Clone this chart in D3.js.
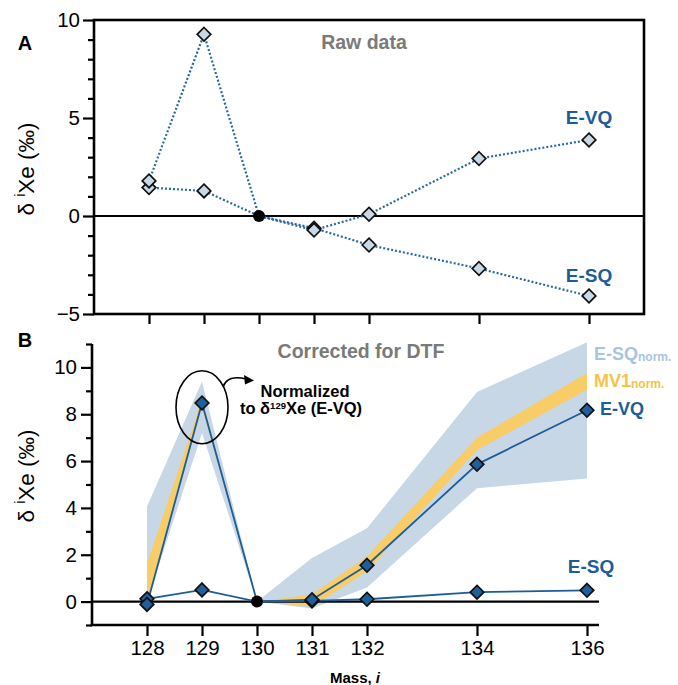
<!DOCTYPE html>
<html><head><meta charset="utf-8">
<script src="https://cdn.jsdelivr.net/npm/d3@7"></script>
<style>body{margin:0;background:#fff}svg{display:block;font-family:"Liberation Sans",Arial,Helvetica,sans-serif}</style>
</head><body><svg id="c" width="678" height="685"></svg>
<script>
// ---------- data ----------
const masses = [128, 129, 130, 131, 132, 134, 136];
const rawEVQ = [1.79, 9.27, 0, -0.72, 0.09, 2.93, 3.88];
const rawESQ = [1.45, 1.28, 0, -0.62, -1.48, -2.68, -4.08];
const corEVQ = [-0.12, 8.48, 0, 0.08, 1.55, 5.86, 8.17];
const corESQ = [0.12, 0.5, 0, 0.03, 0.1, 0.4, 0.48];
const esqNormLow = [0.0, 7.2, 0, -0.3, 0.6, 4.84, 5.26];
const esqNormHigh = [4.06, 9.4, 0, 1.86, 3.13, 8.95, 11.08];
const mv1NormLow = [0.0, 8.3, 0, -0.22, 1.29, 6.47, 9.05];
const mv1NormHigh = [1.6, 8.65, 0, 0.3, 1.93, 7.0, 9.76];
const yTicksA = [-5, 0, 5, 10];
const yMinorA = [-4, -3, -2, -1, 1, 2, 3, 4, 6, 7, 8, 9];
const yTicksB = [0, 2, 4, 6, 8, 10];
const yMinorB = [-1, 1, 3, 5, 7, 9, 11];

const C = {
  dark: "#1c5d98", diamondA: "#c9d8e7", band: "#c7d7e6", yellow: "#f8cc66",
  bandText: "#a9c5de", yellowText: "#f4c449", gray: "#7a7a7a"
};
const TICK_FS = 20.5;

const svg = d3.select("#c");
const diamondPath = "M0,-6.8L6.8,0L0,6.8L-6.8,0Z";

// ---------- Panel A ----------
const xA = d3.scaleLinear().domain([127, 137]).range([94, 644]);
const yA = d3.scaleLinear().domain([-5, 10]).range([314, 20]);
const gA = svg.append("g");

gA.append("line").attr("x1", xA(127)).attr("x2", xA(137)).attr("y1", yA(0)).attr("y2", yA(0))
  .attr("stroke", "#000").attr("stroke-width", 2);

const axA = gA.append("g").attr("transform", `translate(${xA(127)},0)`)
  .call(d3.axisLeft(yA).tickValues(yTicksA).tickSize(11).tickPadding(3).tickFormat(d => d < 0 ? "\u2212" + Math.abs(d) : d));
const axAm = gA.append("g").attr("transform", `translate(${xA(127)},0)`)
  .call(d3.axisLeft(yA).tickValues(yMinorA).tickSize(6).tickFormat(""));
const axAb = gA.append("g").attr("transform", `translate(0,${yA(-5)})`)
  .call(d3.axisBottom(xA).tickValues(masses).tickSize(10).tickFormat(""));
[axA, axAm, axAb].forEach(a => {
  a.select(".domain").remove();
  a.selectAll("line").attr("stroke", "#000").attr("stroke-width", 2.2);
  a.selectAll("text").attr("font-size", TICK_FS).attr("fill", "#000").attr("font-family", "Liberation Sans, Arial, sans-serif");
});
gA.append("rect").attr("x", xA(127)).attr("y", yA(10)).attr("width", xA(137) - xA(127)).attr("height", yA(-5) - yA(10))
  .attr("fill", "none").attr("stroke", "#000").attr("stroke-width", 2.6);

const lineA = d3.line().x((d, i) => xA(masses[i])).y(d => yA(d));
[rawESQ, rawEVQ].forEach(s => {
  gA.append("path").attr("d", lineA(s)).attr("fill", "none").attr("stroke", "#2a6aa3")
    .attr("stroke-width", 2.2).attr("stroke-dasharray", "2,2");
});
[rawESQ, rawEVQ].forEach(s => {
  gA.selectAll(null).data(s.map((v, i) => [masses[i], v]).filter(d => d[0] !== 130)).join("path")
    .attr("d", diamondPath).attr("transform", d => `translate(${xA(d[0])},${yA(d[1])})`)
    .attr("fill", C.diamondA).attr("stroke", "#111").attr("stroke-width", 1.7);
});
gA.append("circle").attr("cx", xA(130)).attr("cy", yA(0)).attr("r", 6).attr("fill", "#000");

gA.append("text").attr("x", 364).attr("y", 49).attr("text-anchor", "middle").attr("font-weight", "bold")
  .attr("font-size", 19.5).attr("fill", C.gray).text("Raw data");
gA.append("text").attr("x", xA(136)).attr("y", 124).attr("text-anchor", "middle").attr("font-weight", "bold")
  .attr("font-size", 19).attr("fill", C.dark).text("E-VQ");
gA.append("text").attr("x", xA(136)).attr("y", 282).attr("text-anchor", "middle").attr("font-weight", "bold")
  .attr("font-size", 19).attr("fill", C.dark).text("E-SQ");
gA.append("text").attr("x", 25).attr("y", 50).attr("text-anchor", "middle").attr("font-weight", "bold")
  .attr("font-size", 20).text("A");

function yLabel(g, x, y) {
  const t = g.append("text").attr("transform", `translate(${x},${y}) rotate(-90)`).attr("text-anchor", "middle")
    .attr("font-size", 22.5).attr("fill", "#000");
  t.append("tspan").text("δ ");
  t.append("tspan").attr("font-size", 14).attr("dy", -9).text("i");
  t.append("tspan").attr("dy", 9).text("Xe (‰)");
}
yLabel(gA, 34, 169);

// ---------- Panel B ----------
const xB = d3.scaleLinear().domain([127, 137]).range([92, 642]);
const yB = d3.scaleLinear().domain([-1, 11]).range([625, 344]);
const gB = svg.append("g");

const band = (lo, hi) => d3.area().x((d, i) => xB(masses[i])).y0((d, i) => yB(lo[i])).y1((d, i) => yB(hi[i]))(masses);
gB.append("path").attr("d", band(esqNormLow, esqNormHigh)).attr("fill", C.band);
gB.append("path").attr("d", band(mv1NormLow, mv1NormHigh)).attr("fill", C.yellow);

gB.append("line").attr("x1", xB(127)).attr("x2", 599).attr("y1", yB(0)).attr("y2", yB(0))
  .attr("stroke", "#000").attr("stroke-width", 2.2);

const lineB = d3.line().x((d, i) => xB(masses[i])).y(d => yB(d));
[corESQ, corEVQ].forEach(s => {
  gB.append("path").attr("d", lineB(s)).attr("fill", "none").attr("stroke", C.dark).attr("stroke-width", 1.8);
});
[corESQ, corEVQ].forEach(s => {
  gB.selectAll(null).data(s.map((v, i) => [masses[i], v]).filter(d => d[0] !== 130)).join("path")
    .attr("d", diamondPath).attr("transform", d => `translate(${xB(d[0])},${yB(d[1])})`)
    .attr("fill", "#1f5f9c").attr("stroke", "#111").attr("stroke-width", 1.7);
});
gB.append("circle").attr("cx", xB(130)).attr("cy", yB(0)).attr("r", 6).attr("fill", "#000");

const axB = gB.append("g").attr("transform", `translate(${xB(127)},0)`)
  .call(d3.axisLeft(yB).tickValues(yTicksB).tickSize(11).tickPadding(4));
const axBm = gB.append("g").attr("transform", `translate(${xB(127)},0)`)
  .call(d3.axisLeft(yB).tickValues(yMinorB).tickSize(6).tickFormat(""));
const axBb = gB.append("g").attr("transform", `translate(0,${yB(-1)})`)
  .call(d3.axisBottom(xB).tickValues(masses).tickSize(11).tickPadding(4).tickFormat(d3.format("d")));
[axB, axBm, axBb].forEach(a => {
  a.select(".domain").remove();
  a.selectAll("line").attr("stroke", "#000").attr("stroke-width", 2.2);
  a.selectAll("text").attr("font-size", TICK_FS).attr("fill", "#000").attr("font-family", "Liberation Sans, Arial, sans-serif");
});
gB.append("line").attr("x1", xB(127)).attr("x2", xB(127)).attr("y1", yB(11)).attr("y2", yB(-1))
  .attr("stroke", "#000").attr("stroke-width", 2.6);
gB.append("line").attr("x1", xB(127) - 1.3).attr("x2", 599).attr("y1", yB(-1)).attr("y2", yB(-1))
  .attr("stroke", "#000").attr("stroke-width", 2.6);

// annotation ellipse and arrow
gB.append("ellipse").attr("cx", xB(129)).attr("cy", yB(8.3)).attr("rx", 26).attr("ry", 36.5)
  .attr("fill", "none").attr("stroke", "#000").attr("stroke-width", 1.6);
gB.append("path").attr("d", "M223,387 C226,378 235,376 246,379").attr("fill", "none").attr("stroke", "#000").attr("stroke-width", 1.6);
gB.append("path").attr("d", "M254,380.5 L244,375 L245,384.5 Z").attr("fill", "#000");
gB.append("text").attr("x", 305).attr("y", 397).attr("text-anchor", "middle").attr("font-weight", "bold")
  .attr("font-size", 16.5).text("Normalized");
const t2 = gB.append("text").attr("x", 301).attr("y", 414).attr("text-anchor", "middle").attr("font-weight", "bold")
  .attr("font-size", 16.5);
t2.append("tspan").text("to δ");
t2.append("tspan").attr("font-size", 9.5).attr("dy", -5).text("129");
t2.append("tspan").attr("dy", 5).text("Xe (E-VQ)");

gB.append("text").attr("x", 361).attr("y", 358).attr("text-anchor", "middle").attr("font-weight", "bold")
  .attr("font-size", 19.5).attr("fill", C.gray).text("Corrected for DTF");

function subLabel(x, y, main, sub, color) {
  const t = gB.append("text").attr("x", x).attr("y", y).attr("font-weight", "bold").attr("fill", color).attr("font-size", 18);
  t.append("tspan").text(main);
  t.append("tspan").attr("font-size", 12).attr("dy", 1).text(sub);
}
subLabel(594, 360, "E-SQ", "norm.", C.bandText);
subLabel(594, 387, "MV1", "norm.", C.yellowText);
gB.append("text").attr("x", 600).attr("y", 415).attr("font-weight", "bold").attr("font-size", 18)
  .attr("fill", C.dark).text("E-VQ");
gB.append("text").attr("x", xB(136) + 4).attr("y", 573).attr("text-anchor", "middle").attr("font-weight", "bold")
  .attr("font-size", 19).attr("fill", C.dark).text("E-SQ");

gB.append("text").attr("x", 25).attr("y", 347).attr("text-anchor", "middle").attr("font-weight", "bold")
  .attr("font-size", 20).text("B");
yLabel(gB, 34, 476);

const ml = gB.append("text").attr("x", 355).attr("y", 683).attr("text-anchor", "middle").attr("font-weight", "bold").attr("font-size", 15);
ml.append("tspan").text("Mass, ");
ml.append("tspan").attr("font-style", "italic").text("i");
</script></body></html>
